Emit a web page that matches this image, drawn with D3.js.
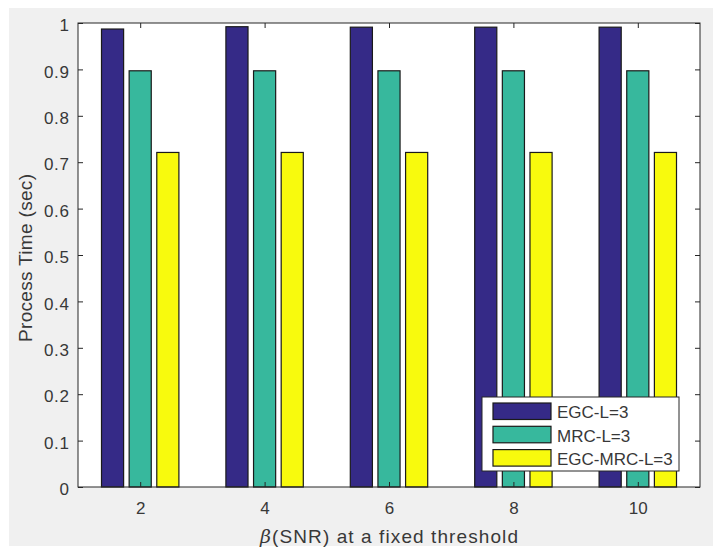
<!DOCTYPE html>
<html><head><meta charset="utf-8">
<script src="https://cdn.jsdelivr.net/npm/d3@7"></script>
<style>body{margin:0;background:#fff}svg{display:block}text{font-family:"Liberation Sans",Arial,sans-serif}</style>
</head><body>
<svg id="c" width="714" height="547"></svg>
<script>
const categories = [2, 4, 6, 8, 10];
const seriesNames = ["EGC-L=3", "MRC-L=3", "EGC-MRC-L=3"];
const egc = [0.987, 0.992, 0.991, 0.991, 0.991];
const mrc = [0.897, 0.897, 0.897, 0.897, 0.897];
const egcmrc = [0.721, 0.721, 0.721, 0.721, 0.721];
const yTicks = [0, 0.1, 0.2, 0.3, 0.4, 0.5, 0.6, 0.7, 0.8, 0.9, 1];
const colors = ["#352a87", "#37b89d", "#f8fa0d"];
const series = [egc, mrc, egcmrc];

const svg = d3.select("#c");
svg.append("rect").attr("x", 9).attr("y", 8).attr("width", 704).attr("height", 538).attr("fill", "#f0f0f0");

const L = 78, R = 700, T = 23, B = 487;
const x = d3.scaleLinear().domain([1, 11]).range([L, R]);
const y = d3.scaleLinear().domain([0, 1]).range([B, T]);

svg.append("rect").attr("x", L).attr("y", T).attr("width", R - L).attr("height", B - T).attr("fill", "#fff");

const offset = 2 * (3 / 4.5) / 3; // group width / n (in data units)
const bw = 0.8 * offset;
series.forEach((vals, s) => {
  svg.append("g").selectAll("rect").data(vals).join("rect")
    .attr("x", (d, i) => x(categories[i] + (s - 1) * offset - bw / 2))
    .attr("width", (d, i) => x(categories[i] + bw / 2) - x(categories[i] - bw / 2))
    .attr("y", d => y(d))
    .attr("height", d => y(0) - y(d))
    .attr("fill", colors[s]).attr("stroke", "#1a1a1a").attr("stroke-width", 1.2);
});

const axCol = "#262626", txtCol = "#383838";
const gx = svg.append("g").attr("transform", `translate(0,${B})`)
  .call(d3.axisBottom(x).tickValues(categories).tickSizeInner(-5).tickSizeOuter(0).tickPadding(15));
const gxt = svg.append("g").attr("transform", `translate(0,${T})`)
  .call(d3.axisTop(x).tickValues(categories).tickSizeInner(-5).tickSizeOuter(0).tickFormat(""));
const gy = svg.append("g").attr("transform", `translate(${L},0)`)
  .call(d3.axisLeft(y).tickValues(yTicks).tickFormat(d3.format("~g")).tickSizeInner(-5).tickSizeOuter(0).tickPadding(8.5));
const gyr = svg.append("g").attr("transform", `translate(${R},0)`)
  .call(d3.axisRight(y).tickValues(yTicks).tickSizeInner(-5).tickSizeOuter(0).tickFormat(""));
[gx, gxt, gy, gyr].forEach(g => {
  g.select(".domain").remove();
  g.selectAll("line").attr("stroke", axCol);
  g.selectAll("text").attr("fill", txtCol).style("font-size", "17px").style("font-family", '"Liberation Sans",Arial,sans-serif');
});
gy.selectAll("text").attr("dy", "0.45em").style("letter-spacing", "0.6px");
svg.append("rect").attr("x", L).attr("y", T).attr("width", R - L).attr("height", B - T)
  .attr("fill", "none").attr("stroke", axCol).attr("stroke-width", 1);

// axis labels
const xl = svg.append("text").attr("x", 260).attr("y", 542.5)
  .attr("textLength", 258).attr("lengthAdjust", "spacing")
  .attr("fill", txtCol).style("font-size", "19px");
xl.append("tspan").attr("font-style", "italic").attr("font-family", "DejaVu Serif, serif").text("β");
xl.append("tspan").text("(SNR) at a fixed threshold");
svg.append("text").attr("transform", `translate(32,342) rotate(-90)`)
  .attr("textLength", 168).attr("lengthAdjust", "spacing")
  .attr("fill", txtCol).style("font-size", "19px").text("Process Time (sec)");

// legend
const lg = svg.append("g");
lg.append("rect").attr("x", 482).attr("y", 397).attr("width", 197).attr("height", 74)
  .attr("fill", "#fff").attr("stroke", axCol).attr("stroke-width", 1);
seriesNames.forEach((n, i) => {
  const yy = 403 + i * 23.3;
  lg.append("rect").attr("x", 493).attr("y", yy).attr("width", 58).attr("height", 16.5)
    .attr("fill", colors[i]).attr("stroke", "#1a1a1a").attr("stroke-width", 1.2);
  lg.append("text").attr("x", 557).attr("y", yy + 15.3).attr("fill", txtCol).style("font-size", "17px").text(n);
});
</script>
</body></html>
